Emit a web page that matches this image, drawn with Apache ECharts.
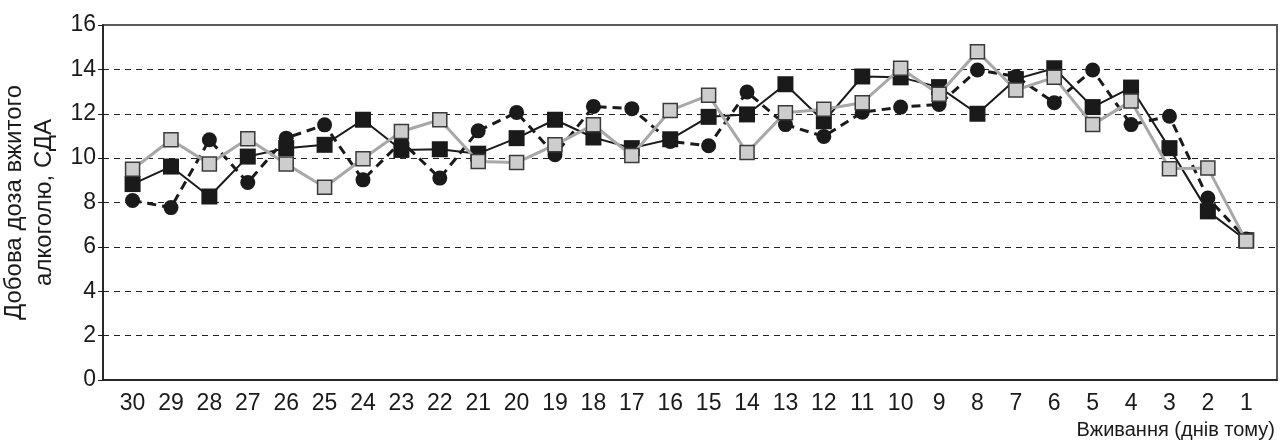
<!DOCTYPE html>
<html>
<head>
<meta charset="utf-8">
<script src="https://cdn.jsdelivr.net/npm/echarts@6/dist/echarts.min.js"></script>
<style>
  html, body { margin: 0; padding: 0; background: #fff; }
  #chart { width: 1286px; height: 447px; }
</style>
</head>
<body>
<div id="chart"></div>
<script>
// Days before the interview, from 30 days ago down to yesterday
const days = ['30','29','28','27','26','25','24','23','22','21','20','19','18','17','16','15','14','13','12','11','10','9','8','7','6','5','4','3','2','1'];

// Daily alcohol dose (standard drinks), three groups
const grayGroup = [9.5, 10.83, 9.74, 10.87, 9.74, 8.69, 9.97, 11.2, 11.73, 9.85, 9.8, 10.6, 11.5, 10.12, 12.15, 12.83, 10.25, 12.05, 12.2, 12.5, 14.05, 12.88, 14.8, 13.07, 13.64, 11.51, 12.57, 9.52, 9.55, 6.26];
const blackGroup = [8.83, 9.62, 8.27, 10.07, 10.45, 10.6, 11.73, 10.37, 10.4, 10.2, 10.9, 11.73, 10.93, 10.45, 10.85, 11.86, 11.97, 13.33, 11.66, 13.68, 13.64, 13.2, 12.0, 13.56, 14.05, 12.3, 13.18, 10.45, 7.6, 6.3];
const circleGroup = [8.09, 7.77, 10.83, 8.9, 10.9, 11.5, 9.02, 10.75, 9.1, 11.23, 12.06, 10.15, 12.33, 12.23, 10.75, 10.56, 12.98, 11.51, 10.98, 12.07, 12.3, 12.42, 13.97, 13.68, 12.5, 13.97, 11.51, 11.89, 8.2, 6.35];

// Y axis range and step
const yMin = 0, yMax = 16, yStep = 2;

const FONT = 'Liberation Sans, Arial, sans-serif';
const toPoints = arr => arr.map((v, i) => [i, v]);
const dayIndex = days.map((d, i) => i);

const chart = echarts.init(document.getElementById('chart'), null, { renderer: 'canvas' });
chart.setOption({
  animation: false,
  backgroundColor: '#ffffff',
  grid: {
    left: 103, right: 9, top: 25, bottom: 67,
    outerBoundsMode: 'none',
    containLabel: false,
    show: true, borderColor: '#5a5a5a', borderWidth: 2, backgroundColor: 'transparent'
  },
  xAxis: {
    type: 'value',
    min: -0.77, max: 29.8,
    axisLine: { show: true, onZero: false, lineStyle: { color: '#1a1a1a', width: 1.5 } },
    axisTick: { show: false },
    splitLine: { show: false },
    axisLabel: {
      customValues: dayIndex,
      formatter: v => days[Math.round(v)],
      color: '#1a1a1a', fontSize: 23, fontFamily: FONT, margin: 12
    },
    name: 'Вживання (днів тому)',
    nameLocation: 'end',
    nameGap: -2,
    nameTextStyle: {
      color: '#1a1a1a', fontSize: 20, fontFamily: FONT,
      align: 'right', verticalAlign: 'top', padding: [40, 0, 0, 0]
    }
  },
  yAxis: {
    type: 'value',
    min: yMin, max: yMax, interval: yStep,
    axisLine: { show: true, onZero: false, lineStyle: { color: '#1a1a1a', width: 1.5 } },
    axisTick: { show: true, inside: false, length: 5, lineStyle: { color: '#1a1a1a', width: 1 } },
    axisLabel: { color: '#1a1a1a', fontSize: 23, fontFamily: FONT, margin: 7 },
    splitLine: {
      show: true, showMinLine: false, showMaxLine: false,
      lineStyle: { color: '#222222', width: 1.2, type: [6, 5] }
    },
    name: 'Добова доза вжитого\nалкоголю, СДА',
    nameLocation: 'middle',
    nameGap: 40,
    nameTextStyle: { color: '#1a1a1a', fontSize: 24, fontFamily: FONT, lineHeight: 30 }
  },
  series: [
    {
      name: 'black',
      type: 'line',
      data: toPoints(blackGroup),
      symbol: 'rect', symbolSize: 16,
      lineStyle: { color: '#1a1a1a', width: 2 },
      itemStyle: { color: '#1a1a1a', borderColor: '#1a1a1a', borderWidth: 0 },
      z: 2
    },
    {
      name: 'circle',
      type: 'line',
      data: toPoints(circleGroup),
      symbol: 'circle', symbolSize: 15,
      lineStyle: { color: '#1a1a1a', width: 3, type: [9, 6] },
      itemStyle: { color: '#1a1a1a', borderColor: '#1a1a1a', borderWidth: 0 },
      z: 3
    },
    {
      name: 'gray',
      type: 'line',
      data: toPoints(grayGroup),
      symbol: 'rect', symbolSize: 14,
      lineStyle: { color: '#a8a8a8', width: 3 },
      itemStyle: { color: '#cdcdcd', borderColor: '#3a3a3a', borderWidth: 1.5 },
      z: 4
    }
  ]
});
</script>
</body>
</html>
